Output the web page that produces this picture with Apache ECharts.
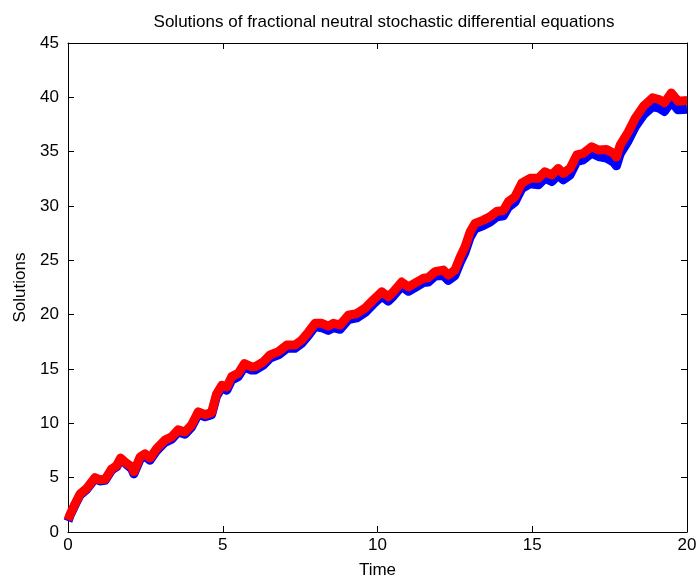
<!DOCTYPE html>
<html>
<head>
<meta charset="utf-8">
<script src="https://cdn.jsdelivr.net/npm/echarts@6/dist/echarts.min.js"></script>
<style>
  html, body { margin: 0; padding: 0; background: #fff; }
  #chart { width: 697px; height: 578px; }
</style>
</head>
<body>
<div id="chart"></div>
<script>
// time samples
const times = [
  0, 0.065, 0.23, 0.39, 0.6, 0.87, 1.03, 1.2, 1.41, 1.57, 1.70, 1.9,
  2.06, 2.13, 2.33, 2.49, 2.65, 2.87, 3.13, 3.35, 3.56, 3.78, 3.99, 4.21, 4.43, 4.64, 4.8, 4.97,
  5.13, 5.29, 5.5, 5.7, 5.93, 6.04, 6.31, 6.53, 6.8, 7.07, 7.33, 7.55, 7.77, 7.98,
  8.2, 8.41, 8.57, 8.79, 9.06, 9.33, 9.6, 9.86, 10.14, 10.35, 10.51, 10.78, 11.0, 11.21, 11.48, 11.64, 11.86,
  12.13, 12.29, 12.5, 12.67, 12.83, 12.99, 13.15, 13.42, 13.63, 13.85, 14.07, 14.23, 14.44, 14.66, 14.93,
  15.2, 15.41, 15.63, 15.84, 16.0, 16.22, 16.44, 16.65, 16.92, 17.14,
  17.4, 17.62, 17.72, 17.84, 18.1, 18.33, 18.6, 18.89, 19.1, 19.27, 19.49, 19.71, 20.0
];

// blue solution (drawn underneath)
const blueVals = [
  1.0, 1.5, 2.5, 3.4, 3.9, 4.9, 4.7, 4.75, 5.7, 6.0, 6.7, 6.2,
  5.8, 5.35, 6.7, 7.0, 6.6, 7.5, 8.25, 8.55, 9.2, 9.0, 9.65, 10.85, 10.6, 10.8, 12.5, 13.3,
  13.05, 14.0, 14.3, 15.2, 14.9, 14.9, 15.35, 16.0, 16.3, 16.9, 16.9, 17.35, 18.1, 18.9,
  18.8, 18.55, 18.8, 18.65, 19.55, 19.7, 20.2, 20.95, 21.7, 21.25, 21.7, 22.6, 22.15, 22.5, 22.95, 23.0, 23.55,
  23.6, 23.15, 23.6, 24.8, 25.75, 27.1, 27.9, 28.2, 28.5, 29.0, 29.1, 29.9, 30.35, 31.6, 32.05,
  31.95, 32.55, 32.25, 32.85, 32.4, 32.85, 34.1, 34.25, 34.85, 34.55,
  34.4, 34.05, 33.7, 34.8, 36.0, 37.3, 38.4, 39.15, 39.0, 38.7, 39.6, 38.85, 38.9
];

// red solution (drawn on top)
const redVals = [
  1.1, 1.6, 2.6, 3.5, 4.0, 5.0, 4.8, 4.85, 5.8, 6.1, 6.8, 6.3,
  6.0, 5.55, 6.9, 7.2, 6.8, 7.7, 8.45, 8.75, 9.4, 9.2, 9.85, 11.05, 10.8, 11.0, 12.7, 13.5,
  13.35, 14.3, 14.6, 15.5, 15.2, 15.2, 15.65, 16.3, 16.6, 17.2, 17.2, 17.65, 18.4, 19.2,
  19.2, 18.95, 19.2, 19.05, 19.95, 20.1, 20.6, 21.35, 22.1, 21.65, 22.1, 23.0, 22.55, 22.9, 23.35, 23.4, 23.95,
  24.1, 23.65, 24.1, 25.3, 26.25, 27.6, 28.4, 28.7, 29.0, 29.5, 29.6, 30.4, 30.85, 32.1, 32.55,
  32.55, 33.15, 32.85, 33.45, 33.0, 33.45, 34.7, 34.85, 35.45, 35.15,
  35.2, 34.85, 34.5, 35.6, 36.8, 38.1, 39.2, 39.95, 39.8, 39.5, 40.4, 39.65, 39.7
];

const fontFamily = '"Liberation Sans", Arial, sans-serif';

const chart = echarts.init(document.getElementById('chart'));

const tickStyle = { inside: true, length: 6, lineStyle: { color: '#000', width: 1 } };
const lineSty = { show: true, onZero: false, lineStyle: { color: '#000', width: 1 } };

chart.setOption({
  animation: false,
  backgroundColor: '#fff',
  title: {
    text: 'Solutions of fractional neutral stochastic differential equations',
    left: 379,
    textAlign: 'center',
    top: 9,
    textStyle: { color: '#000', fontSize: 17, fontWeight: 'normal', fontFamily: fontFamily },
  },
  grid: { left: 68, right: 10, top: 43, bottom: 46, outerBoundsMode: 'none' },
  xAxis: [
    {
      type: 'value',
      min: 0,
      max: 20,
      interval: 5,
      name: 'Time',
      nameLocation: 'middle',
      nameGap: 30,
      nameTextStyle: { color: '#000', fontSize: 17, fontFamily: fontFamily },
      axisLine: lineSty,
      axisTick: tickStyle,
      axisLabel: { color: '#000', fontSize: 17, fontFamily: fontFamily, margin: 5 },
      splitLine: { show: false },
    },
    {
      type: 'value',
      position: 'top',
      min: 0,
      max: 20,
      interval: 5,
      axisLine: lineSty,
      axisTick: tickStyle,
      axisLabel: { show: false },
      splitLine: { show: false },
    },
  ],
  yAxis: [
    {
      type: 'value',
      min: 0,
      max: 45,
      interval: 5,
      name: 'Solutions',
      nameLocation: 'middle',
      nameGap: 34,
      nameTextStyle: { color: '#000', fontSize: 17, fontFamily: fontFamily },
      axisLine: lineSty,
      axisTick: tickStyle,
      axisLabel: { color: '#000', fontSize: 17, fontFamily: fontFamily, margin: 9 },
      splitLine: { show: false },
    },
    {
      type: 'value',
      position: 'right',
      min: 0,
      max: 45,
      interval: 5,
      axisLine: lineSty,
      axisTick: tickStyle,
      axisLabel: { show: false },
      splitLine: { show: false },
    },
  ],
  series: [
    {
      name: 'blue',
      type: 'line',
      showSymbol: false,
      clip: true,
      data: times.map((t, i) => [t, blueVals[i]]),
      lineStyle: { color: '#0000ff', width: 9, cap: 'butt', join: 'round' },
      itemStyle: { color: '#0000ff' },
      z: 2,
    },
    {
      name: 'red',
      type: 'line',
      showSymbol: false,
      clip: true,
      data: times.map((t, i) => [t, redVals[i]]),
      lineStyle: { color: '#ff0000', width: 9, cap: 'butt', join: 'round' },
      itemStyle: { color: '#ff0000' },
      z: 3,
    },
  ],
});
</script>
</body>
</html>
